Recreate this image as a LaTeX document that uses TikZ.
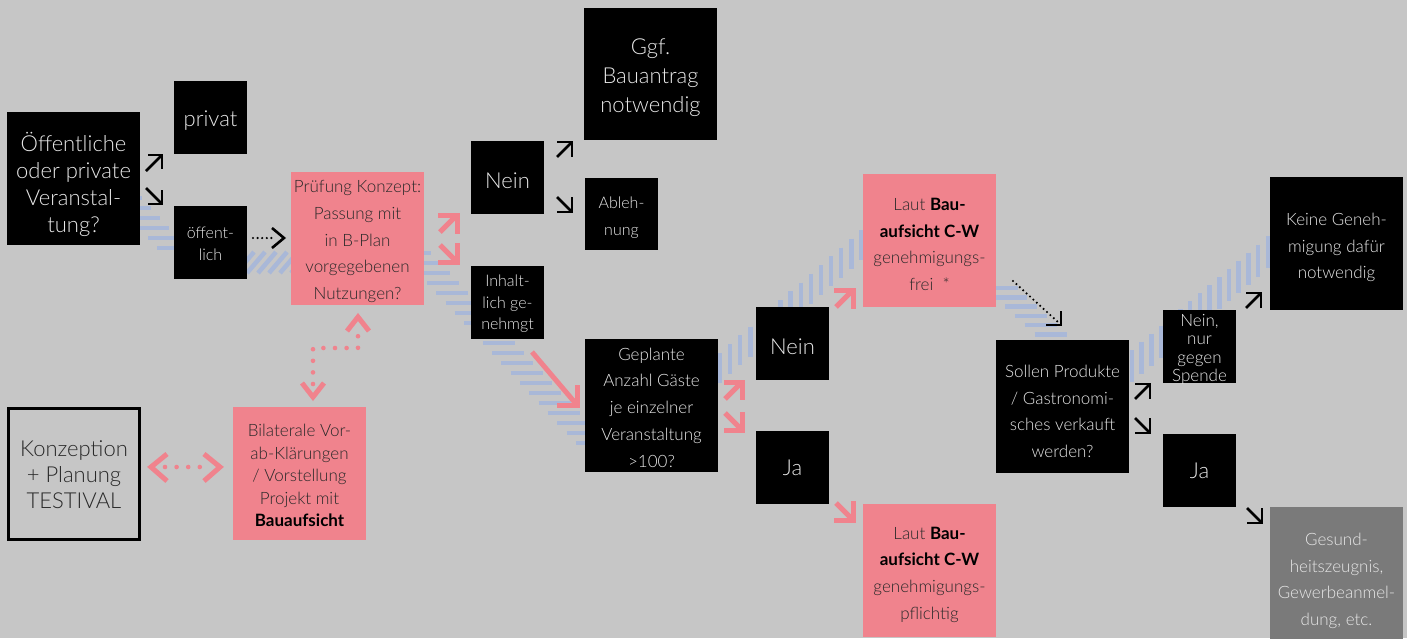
\documentclass[tikz,border=0pt]{standalone}
\usepackage{fontspec}
\setmainfont{Lato}[UprightFont={* Light},BoldFont={* Bold}]
\usetikzlibrary{calc}

\definecolor{bg}{RGB}{198,198,198}
\definecolor{rose}{RGB}{240,131,141}
\definecolor{hatch}{RGB}{169,184,216}
\definecolor{slate}{RGB}{122,122,122}
\definecolor{paper}{RGB}{232,232,232}
\definecolor{ink}{RGB}{40,40,40}

\newcommand\fbig{\fontsize{22}{27}\selectfont}
\newcommand\fmed{\fontsize{17}{26.7}\selectfont}
\newcommand\fsml{\fontsize{16}{21.5}\selectfont}
\newcommand\heavy[1]{{\color{black}\bfseries #1}}

% corner arrow: style, tip, x-sign, y-sign, shaft length, arm length
\newcommand\cornerarrow[6]{%
  \draw[#1] (#2) ++({-(#3)*(#5)},{-(#4)*(#5)}) -- (#2);
  \draw[#1] (#2) ++({-(#3)*(#6)},0) -- (#2) -- ++(0,{-(#4)*(#6)});
}

% panel: style, name, top-left corner, font, downward text offset, text
\newcommand\panel[6]{%
  \node[#1] (#2) at (#3) {};
  \node[#1, fill=none, draw=none, minimum width=0pt, minimum height=0pt,
        anchor=center, font=#4] (#2-txt) at ([yshift=-#5]#2.center) {#6};
}

\tikzset{
  cell/.style={anchor=north west, inner sep=0pt, outer sep=0pt, align=center},
  dark/.style={cell, fill=black, text=paper},
  rosy/.style={cell, fill=rose, text=ink},
  wide/.style={minimum width=133pt, minimum height=133pt},
  narrow/.style={minimum width=73pt, minimum height=73pt},
  band/.style={hatch, line width=4.5pt},
  barbk/.style={black, line width=2.6pt, line join=miter},
  barpk/.style={rose, line width=5pt, line join=miter},
  dotk/.style={black, line width=2.4pt, line cap=round, dash pattern=on 0pt off 4.6pt},
  dotpk/.style={rose, line width=4.6pt, line cap=round, dash pattern=on 0pt off 11.6pt},
}

\begin{document}
\begin{tikzpicture}[x=1pt,y=-1pt]
\fill[bg] (0,0) rectangle (1407,638);
\useasboundingbox (0,0) rectangle (1407,638);

% hatched flow bands behind the boxes
\foreach \yy in {198,208,...,248}
  \draw[band] ({148+0.9*(\yy-238)},\yy) -- ++(30,0);
\foreach \xx in {236,247,...,291}
  \draw[band] (\xx,273) -- ++(18,-21);
\foreach \yy in {243,253,...,453}
  \draw[band] ({427+0.93*(\yy-283)},\yy) -- ++(32,0);
\foreach \i in {-2,...,15}
  \draw[band] ({720+10.1*\i},{353-0.87*10.1*\i}) -- ++(0,30);
\foreach \i in {0,...,6}
  \draw[band] ({985.5+9.8*\i},{288+9.3*\i}) -- ++(32,0);
\foreach \i in {0,...,15}
  \draw[band] ({1132+9.7*\i},{350-0.836*9.7*\i}) -- ++(0,32);

% boxes
\panel{dark,wide}{frage}{7,112}{\fbig}{6pt}{Öffentliche\\oder private\\Veranstal-\\tung?}
\panel{dark,narrow}{privat}{174,81}{\fbig}{3pt}{privat}
\panel{dark,narrow}{oeff}{174,206}{\fsml}{1.5pt}{öffent-\\lich}
\panel{rosy,wide}{pruef}{291,172}{\fmed}{3pt}{Prüfung Konzept:\\Passung mit\\in B-Plan\\vorgegebenen\\Nutzungen?}
\panel{dark,narrow}{neinA}{471,141}{\fbig}{3pt}{Nein}
\panel{dark,minimum width=133pt,minimum height=132pt}{ggf}{584,8}{\fontsize{22}{29}\selectfont}{4pt}{Ggf.\\Bauantrag\\notwendig}
\panel{dark,minimum width=73pt,minimum height=72pt}{ableh}{585,178}{\fontsize{16}{27}\selectfont}{4pt}{Ableh-\\nung}
\panel{dark,narrow}{inhalt}{471,266}{\fsml}{1.5pt}{Inhalt-\\lich ge-\\nehmgt}
\panel{dark,wide}{gaeste}{585,339}{\fmed}{2pt}{Geplante\\Anzahl Gäste\\je einzelner\\Veranstaltung\\>100?}
\panel{dark,narrow}{neinB}{756,307}{\fbig}{3pt}{Nein}
\panel{dark,narrow}{jaB}{756,431}{\fbig}{0pt}{Ja}
\panel{rosy,wide}{frei}{863,174}{\fmed}{4pt}{Laut \heavy{Bau-}\\\heavy{aufsicht C-W}\\genehmigungs-\\frei\ \ *}
\panel{rosy,wide}{pflicht}{863,504}{\fmed}{4pt}{Laut \heavy{Bau-}\\\heavy{aufsicht C-W}\\genehmigungs-\\pflichtig}
\panel{dark,wide}{verkauf}{996,340}{\fmed}{5pt}{Sollen Produkte\\/ Gastronomi-\\sches verkauft\\werden?}
\panel{dark,narrow}{spende}{1163,310}{\fontsize{17}{18.3}\selectfont}{3pt}{Nein,\\nur\\gegen\\Spende}
\panel{dark,wide}{keine}{1270,177}{\fmed}{4pt}{Keine Geneh-\\migung dafür\\notwendig}
\panel{dark,narrow}{jaC}{1163,434}{\fbig}{0pt}{Ja}
\panel{cell,fill=slate,text=paper,minimum width=133pt,minimum height=140pt}{gesund}{1270,507}{\fmed}{4pt}{Gesund-\\heitszeugnis,\\Gewerbeanmel-\\dung, etc.}
\panel{cell,draw=black,line width=3pt,minimum width=131pt,minimum height=131pt,text=ink}{konz}{8.5,408.5}{\fontsize{22}{26}\selectfont}{1pt}{Konzeption\\+ Planung\\TESTIVAL}
\panel{rosy,wide}{bilat}{233,407}{\fontsize{17}{22.5}\selectfont}{2pt}{Bilaterale Vor-\\ab-Klärungen\\/ Vorstellung\\Projekt mit\\\heavy{Bauaufsicht}}

% black corner arrows
\cornerarrow{barbk}{162,155}{1}{-1}{16}{14}
\cornerarrow{barbk}{162,204}{1}{1}{16}{14}
\cornerarrow{barbk}{572,142}{1}{-1}{15}{15}
\cornerarrow{barbk}{572,212}{1}{1}{15}{15}
\cornerarrow{barbk}{1150,384}{1}{-1}{15}{15}
\cornerarrow{barbk}{1150,433}{1}{1}{15}{15}
\cornerarrow{barbk}{1261,293}{1}{-1}{15}{15}
\cornerarrow{barbk}{1262,523}{1}{1}{15}{15}

% pink corner arrows
\cornerarrow{barpk}{457,215}{1}{-1}{17}{19}
\cornerarrow{barpk}{457,262}{1}{1}{17}{19}
\cornerarrow{barpk}{742,382}{1}{-1}{17}{18}
\cornerarrow{barpk}{742,430}{1}{1}{17}{18}
\cornerarrow{barpk}{853,290}{1}{-1}{17}{19}
\cornerarrow{barpk}{853,520}{1}{1}{17}{19}
\draw[barpk] (532,352) -- (577,405);
\draw[barpk] (557,405) -- (577,405) -- (577,385);

% dotted black arrows
\draw[dotk] ($(oeff.east)+(6,-4.5)$) -- ($(pruef.west)+(-19,-0.5)$);
\draw[barbk] (272,228) -- (284,238) -- (272,248);
\draw[dotk] (1013,281) -- (1059,323);
\draw[barbk] (1046,325) -- (1061,325) -- (1061,311);

% pink dotted double arrows
\draw[dotpk] (165,467) -- (204,467);
\draw[barpk] (167,454) -- (151,467) -- (167,481);
\draw[barpk] (204,454) -- (220,467) -- (204,481);
\draw[dotpk] (313,384) -- (313,348) -- (358,348) -- (358,326);
\draw[barpk] (302,383) -- (313,397) -- (324,383);
\draw[barpk] (347,331) -- (358,317) -- (369,331);
\end{tikzpicture}
\end{document}
